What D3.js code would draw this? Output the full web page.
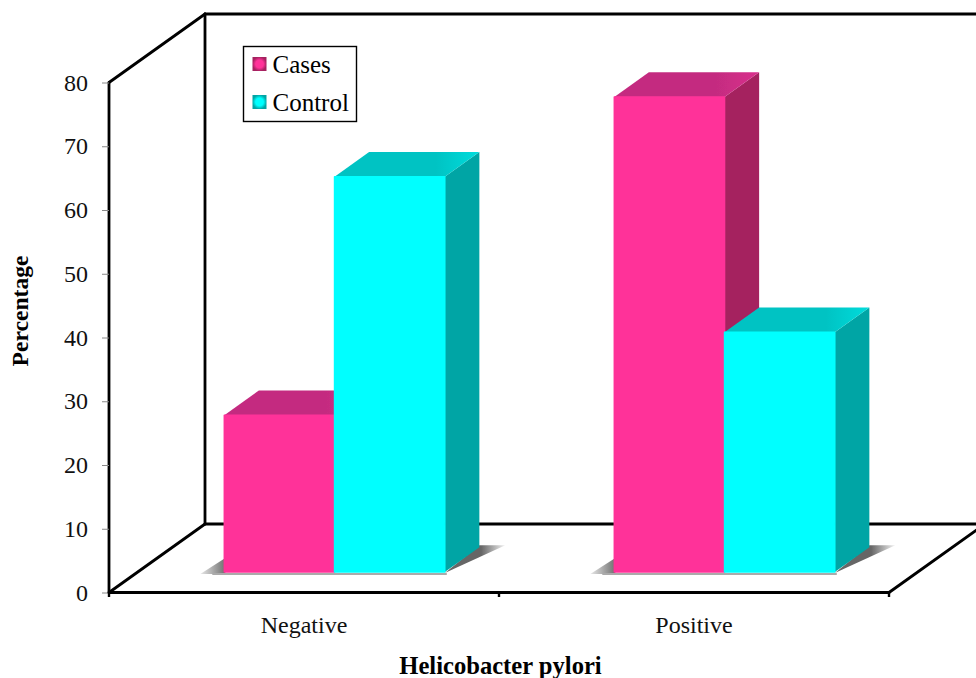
<!DOCTYPE html>
<html>
<head>
<meta charset="utf-8">
<script src="https://cdn.jsdelivr.net/npm/d3@7"></script>
<style>
  html, body { margin: 0; padding: 0; background: #fff; overflow: hidden; }
  svg { display: block; font-family: "Liberation Serif", serif; }
  .tick text { font-family: "Liberation Serif", serif; font-size: 24px; fill: #111; }
</style>
</head>
<body>
<svg id="chart" width="976" height="678"></svg>
<script>
const categories = ['Negative', 'Positive'];
const seriesNames = ['Cases', 'Control'];
const casesValues = [24.6, 74.5];
const controlValues = [62, 37.6];
const yTicks = [0, 10, 20, 30, 40, 50, 60, 70, 80];

const palette = {
  Cases: { front: '#ff3399', top: '#c42c80', topLight: '#d92f8c', side: '#a5215f' },
  Control: { front: '#00ffff', top: '#00c3c3', topLight: '#00dcdc', side: '#00a5a5' }
};

const svg = d3.select('#chart');
const defs = svg.append('defs');

const y = d3.scaleLinear().domain([0, 80]).range([592.5, 82.5]);
const x0 = d3.scaleBand().domain(categories).range([109, 889]);
const x1 = d3.scaleBand().domain(seriesNames).range([86.5, 307]);

// oblique projection: depth 0 is the front plane, 1 the back wall
const depthX = 96, depthY = -68.5;
const barFront = 0.30, barBack = 0.66;
const project = (px, val, depth) => [px + depth * depthX, y(val) + depth * depthY];
const pts = a => a.map(p => p.join(',')).join(' ');

const soft = defs.append('filter').attr('id', 'soft');
soft.append('feGaussianBlur').attr('stdDeviation', 0.7);
defs.append('filter').attr('id', 'softLine')
  .append('feGaussianBlur').attr('stdDeviation', 0.45);

const shadowL = defs.append('linearGradient').attr('id', 'shadowL');
shadowL.append('stop').attr('offset', '0%').attr('stop-color', '#e8e8e8');
shadowL.append('stop').attr('offset', '100%').attr('stop-color', '#6f6f6f');
const shadowR = defs.append('linearGradient').attr('id', 'shadowR');
shadowR.append('stop').attr('offset', '0%').attr('stop-color', '#666');
shadowR.append('stop').attr('offset', '60%').attr('stop-color', '#666');
shadowR.append('stop').attr('offset', '100%').attr('stop-color', '#f4f4f4');

seriesNames.forEach(s => {
  const g = defs.append('linearGradient').attr('id', 'top' + s);
  g.append('stop').attr('offset', '0%').attr('stop-color', palette[s].top);
  g.append('stop').attr('offset', '70%').attr('stop-color', palette[s].top);
  g.append('stop').attr('offset', '100%').attr('stop-color', palette[s].topLight);
  const r = defs.append('radialGradient').attr('id', 'key' + s);
  r.append('stop').attr('offset', '0%').attr('stop-color', palette[s].front);
  r.append('stop').attr('offset', '55%').attr('stop-color', palette[s].front);
  r.append('stop').attr('offset', '100%').attr('stop-color', palette[s].side);
});

// walls and floor
const frame = [
  [[109, 0, 0], [109, 80, 0]],
  [[109, 80, 0], [109, 80, 1]],
  [[109, 80, 1], [109, 0, 1]],
  [[109, 0, 0], [109, 0, 1]],
  [[109, 0, 0], [889, 0, 0]],
  [[889, 0, 0], [889, 0, 1]],
  [[109, 80, 1], [889, 80, 1]],
  [[109, 0, 1], [889, 0, 1]]
];
svg.append('g').attr('filter', 'url(#softLine)')
  .selectAll('line').data(frame).join('line')
  .attr('x1', d => project(...d[0])[0])
  .attr('y1', d => project(...d[0])[1])
  .attr('x2', d => project(...d[1])[0])
  .attr('y2', d => project(...d[1])[1])
  .attr('stroke', '#000')
  .attr('stroke-width', 2.8)
  .attr('stroke-linecap', 'round');

// axes
const yAxis = svg.append('g')
  .attr('transform', 'translate(109,0)')
  .call(d3.axisLeft(y).tickValues(yTicks).tickSize(7).tickPadding(14));
yAxis.select('.domain').remove();
yAxis.selectAll('.tick line').attr('stroke', '#888');

const xAxis = svg.append('g')
  .attr('transform', 'translate(0,592)')
  .call(d3.axisBottom(x0).tickSize(0).tickPadding(24));
xAxis.select('.domain').remove();

svg.append('g').selectAll('line').data([109, 499, 889]).join('line')
  .attr('x1', d => d).attr('x2', d => d)
  .attr('y1', 592).attr('y2', 597)
  .attr('stroke', '#000').attr('stroke-width', 2.4);

// floor shadows and bars
const groups = svg.selectAll('.group').data(categories).join('g')
  .attr('class', 'group')
  .attr('filter', 'url(#soft)');

groups.each(function (cat, i) {
  const g = d3.select(this);
  const left = x0(cat) + x1('Cases');
  const right = x0(cat) + x1('Control') + x1.bandwidth();
  const a = project(left, 0, barFront);
  const b = project(right, 0, barFront);
  const c = project(right, 0, barBack);

  g.append('polygon')
    .attr('points', pts([[a[0] - 24, a[1] + 2], [a[0] + 1, a[1] + 2], [a[0] + 1, a[1] - 14]]))
    .attr('fill', 'url(#shadowL)');
  g.append('polygon')
    .attr('points', pts([[b[0], b[1] + 1], [c[0], c[1] - 2], [c[0] + 26, c[1] - 2]]))
    .attr('fill', 'url(#shadowR)');
  g.append('line')
    .attr('x1', a[0] - 12).attr('x2', b[0] + 2)
    .attr('y1', a[1] + 2).attr('y2', b[1] + 2)
    .attr('stroke', '#aaa').attr('stroke-width', 2);

  const rows = [
    { name: 'Cases', value: casesValues[i] },
    { name: 'Control', value: controlValues[i] }
  ];
  rows.forEach(d => {
    const xa = x0(cat) + x1(d.name);
    const xb = xa + x1.bandwidth();
    const col = palette[d.name];
    const faces = [
      { fill: col.side, p: [project(xb, 0, barFront), project(xb, 0, barBack), project(xb, d.value, barBack), project(xb, d.value, barFront)] },
      { fill: 'url(#top' + d.name + ')', p: [project(xa, d.value, barFront), project(xb, d.value, barFront), project(xb, d.value, barBack), project(xa, d.value, barBack)] },
      { fill: col.front, p: [project(xa, 0, barFront), project(xb, 0, barFront), project(xb, d.value, barFront), project(xa, d.value, barFront)] }
    ];
    g.selectAll(null).data(faces).join('polygon')
      .attr('points', f => pts(f.p))
      .attr('fill', f => f.fill)
      .attr('stroke', f => f.fill === col.front ? col.front : 'none')
      .attr('stroke-width', 1.5)
      .attr('stroke-linejoin', 'round');
  });
});

// axis titles
svg.append('text')
  .attr('x', 500.5).attr('y', 674)
  .attr('text-anchor', 'middle')
  .attr('font-size', 24.6).attr('font-weight', 'bold')
  .text('Helicobacter pylori');

svg.append('text')
  .attr('transform', 'translate(28,311) rotate(-90)')
  .attr('text-anchor', 'middle')
  .attr('font-size', 23.6).attr('font-weight', 'bold')
  .text('Percentage');

// legend
const legend = svg.append('g').attr('transform', 'translate(243.5,46.5)');
legend.append('rect')
  .attr('width', 113).attr('height', 75)
  .attr('fill', '#fff').attr('stroke', '#000').attr('stroke-width', 1.4);
const rowY = d3.scalePoint().domain(seriesNames).range([18, 56]);
const rows = legend.selectAll('.row').data(seriesNames).join('g')
  .attr('class', 'row')
  .attr('transform', d => `translate(0,${rowY(d)})`);
rows.append('rect')
  .attr('x', 9).attr('y', -7.5)
  .attr('width', 14).attr('height', 14)
  .attr('fill', d => `url(#key${d})`);
rows.append('text')
  .attr('x', 29).attr('y', 8)
  .attr('font-size', 25)
  .text(d => d);
</script>
</body>
</html>
